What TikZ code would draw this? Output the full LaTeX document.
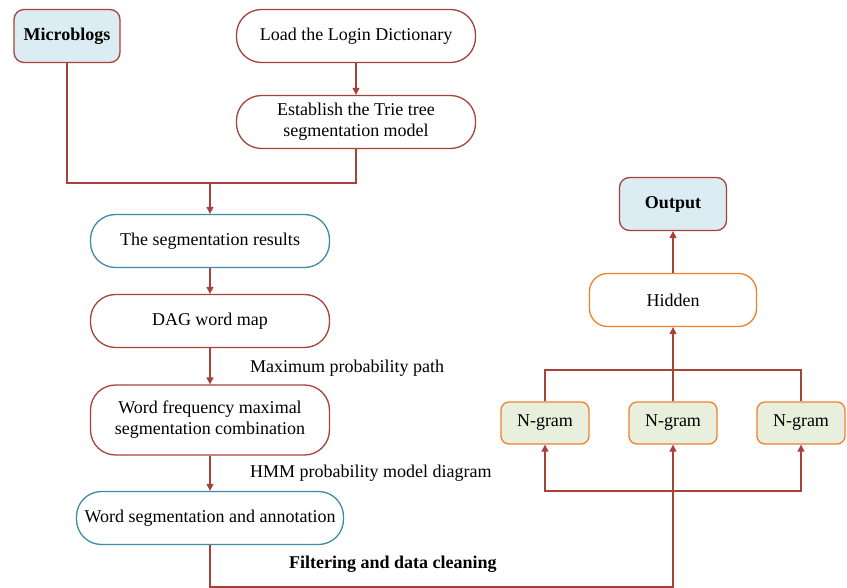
\documentclass[tikz,border=0pt]{standalone}
\usepackage{fontspec}
\setmainfont{Liberation Serif}
\usetikzlibrary{arrows.meta}
\definecolor{darkred}{HTML}{A5433B}
\definecolor{tealline}{HTML}{3D8CA6}
\definecolor{orangeline}{HTML}{F0802C}
\definecolor{paleblue}{HTML}{DBECF2}
\definecolor{palegreen}{HTML}{E9EFDD}

\begin{document}
\begin{tikzpicture}[x=1pt,y=-1pt,
  font=\fontsize{18}{21}\selectfont,
  every node/.style={align=center, inner sep=0pt},
  stadium/.style={draw=darkred, line width=1.3pt, rounded corners=25pt,
    minimum width=239pt, minimum height=53pt, fill=white},
  tealbox/.style={stadium, draw=tealline},
  headbox/.style={draw=darkred, line width=1.3pt, rounded corners=10pt,
    fill=paleblue, minimum height=53pt, font=\fontsize{18}{21}\selectfont\bfseries},
  grambox/.style={draw=orangeline, line width=1.3pt, rounded corners=8pt,
    fill=palegreen, minimum width=88pt, minimum height=42pt},
  line/.style={draw=darkred, line width=1.3pt},
  arrow/.style={line, -{Triangle[length=7pt,width=7pt]}}]
\useasboundingbox (0,0) rectangle (847,588);

% left column
\node[headbox, minimum width=106pt] (micro) at (67,36) {Microblogs};
\node[stadium] (dict) at (356,36) {Load the Login Dictionary};
\node[stadium] (trie) at (356,122) {Establish the Trie tree\\segmentation model};
\node[tealbox] (seg) at (210,241) {The segmentation results};
\node[stadium] (dag) at (210,321) {DAG word map};
\node[stadium, minimum height=70pt] (freq) at (210,420) {Word frequency maximal\\segmentation combination};
\node[tealbox, minimum width=267pt] (anno) at (210,518) {Word segmentation and annotation};

% right column
\node[headbox, minimum width=107pt] (out) at (673,204) {Output};
\node[stadium, draw=orangeline, rounded corners=18pt, minimum width=167pt] (hidden) at (673,300) {Hidden};
\node[grambox] (ng1) at (545,423) {N-gram};
\node[grambox] (ng2) at (673,423) {N-gram};
\node[grambox] (ng3) at (801,423) {N-gram};

% edge labels
\node[anchor=west] (lab1) at (250,368) {Maximum probability path};
\node[anchor=west] (lab2) at (250,473) {HMM probability model diagram};
\node[anchor=west, font=\fontsize{18}{21}\selectfont\bfseries] (lab3) at (289,564) {Filtering and data cleaning};

\coordinate (merge) at (210,183);
\coordinate (corner) at (673,587);
\coordinate (split) at (673,491);
\coordinate (gather) at (673,370);

\draw[arrow] (dict) -- (trie);
\draw[line] (micro.south) |- (merge) -| (trie.south);
\draw[arrow] (merge) -- (seg.north);
\draw[arrow] (seg) -- (dag);
\draw[arrow] (dag) -- (freq);
\draw[arrow] (freq) -- (anno);
\draw[line] (anno.south) |- (corner) -- (split);
\draw[arrow] (split) -- (ng2.south);
\draw[arrow] (split) -| (ng1.south);
\draw[arrow] (split) -| (ng3.south);
\draw[line] (ng1.north) |- (gather) -| (ng3.north);
\draw[arrow] (ng2.north) -- (hidden.south);
\draw[arrow] (hidden) -- (out);
\end{tikzpicture}
\end{document}
